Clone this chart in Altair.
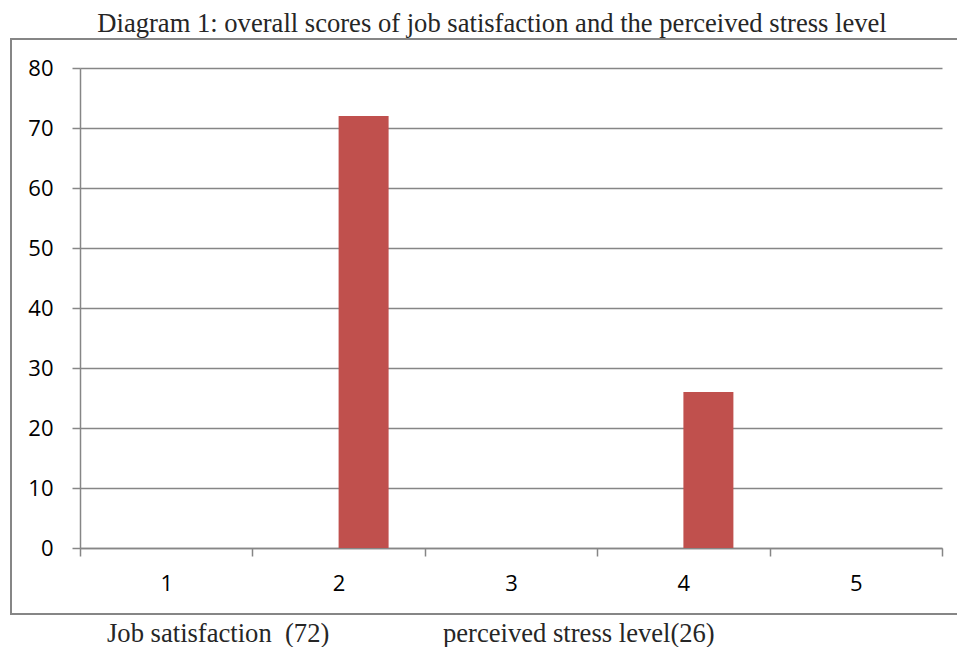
import altair as alt
import pandas as pd

categories = ["1", "2", "3", "4", "5"]
values = [0, 72, 0, 26, 0]
series = ["B", "B", "B", "B", "B"]
title_text = "Diagram 1: overall scores of job satisfaction and the perceived stress level"
footer_left = "Job satisfaction \u00a0(72)"
footer_right = "perceived stress level(26)"

df = pd.DataFrame({"cat": categories, "val": values, "series": series})

GRAY = "#868686"
W, H = 862, 480
PL, PT = 80, 68

bars = alt.Chart(df).mark_bar(color="#C0504D").encode(
    x=alt.X("cat:N", sort=categories,
            scale=alt.Scale(paddingInner=0, paddingOuter=0),
            axis=alt.Axis(title=None, labelAngle=0, tickBand="extent", tickSize=8,
                          tickColor=GRAY, tickWidth=1.5, domainColor=GRAY, domainWidth=1.5,
                          labelFont="Open Sans", labelFontSize=22, labelColor="#000000",
                          labelPadding=17, grid=False)),
    xOffset=alt.XOffset("series:N", scale=alt.Scale(domain=["A", "B"], paddingInner=0, paddingOuter=0.724)),
    y=alt.Y("val:Q", scale=alt.Scale(domain=[0, 80], nice=False),
            axis=alt.Axis(title=None, values=list(range(0, 81, 10)), tickSize=8,
                          tickColor=GRAY, tickWidth=1.5, domainColor=GRAY, domainWidth=1.5,
                          gridColor=GRAY, gridWidth=1.5, gridOpacity=1,
                          labelFont="Open Sans", labelFontSize=22, labelColor="#000000",
                          labelPadding=19)),
)

one = alt.Data(values=[{"a": 1}])

frame = alt.Chart(one).mark_rect(fill=None, stroke=GRAY, strokeWidth=2, clip=False).encode(
    x=alt.value(11 - PL), x2=alt.value(975 - PL), y=alt.value(39 - PT), y2=alt.value(614 - PT)
)

FS = 26.6

title = alt.Chart(one).mark_text(text=title_text, font="Liberation Serif", fontSize=FS,
                                 color="#262626", align="center", baseline="alphabetic").encode(
    x=alt.value(492 - PL), y=alt.value(32 - PT))

f1 = alt.Chart(one).mark_text(text=footer_left, font="Liberation Serif", fontSize=FS,
                              color="#262626", align="left", baseline="alphabetic").encode(
    x=alt.value(107 - PL), y=alt.value(642 - PT))

f2 = alt.Chart(one).mark_text(text=footer_right, font="Liberation Serif", fontSize=FS,
                              color="#262626", align="left", baseline="alphabetic").encode(
    x=alt.value(443 - PL), y=alt.value(642 - PT))

chart = alt.layer(frame, bars, title, f1, f2).properties(
    width=W, height=H,
    autosize=alt.AutoSizeParams(type="none"),
    padding={"left": PL, "top": PT, "right": 957 - PL - W, "bottom": 647 - PT - H},
    background="white",
).configure_view(stroke=None)

chart.save("out.html", embed_options={"renderer": "svg", "actions": False})
